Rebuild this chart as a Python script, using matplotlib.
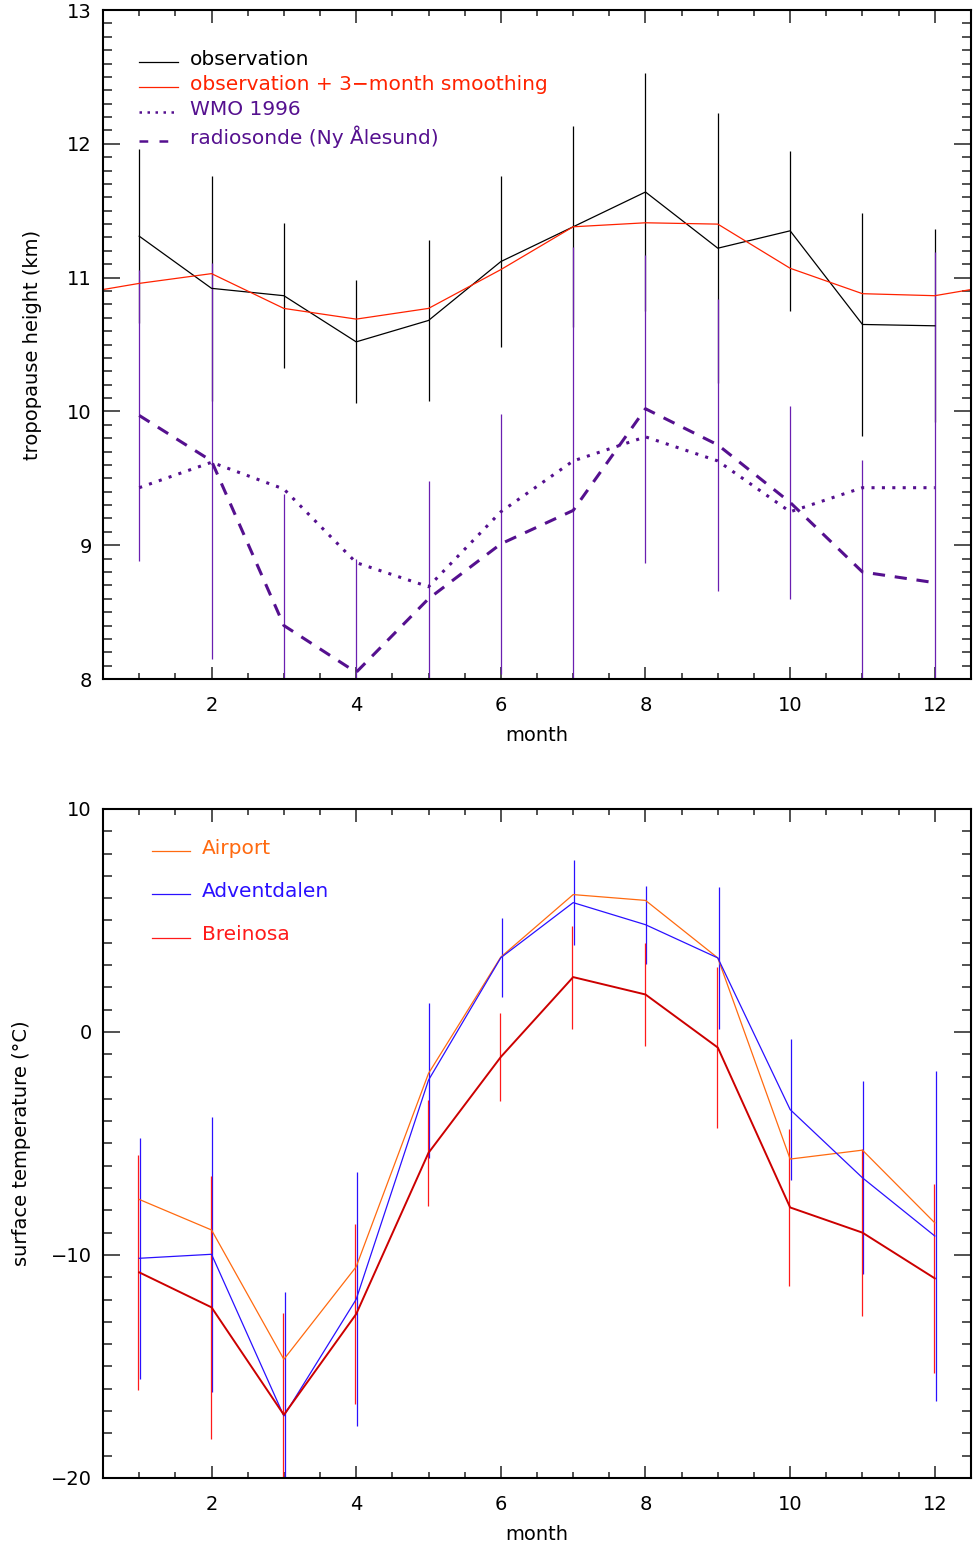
import matplotlib
matplotlib.use("Agg")
import matplotlib.pyplot as plt
from matplotlib.lines import Line2D
from matplotlib.legend_handler import HandlerLine2D
from matplotlib.ticker import MultipleLocator

plt.rcParams['font.family'] = ['DejaVu Sans']

months = [1, 2, 3, 4, 5, 6, 7, 8, 9, 10, 11, 12]

# tropopause height (km)
obs = [11.31, 10.92, 10.865, 10.52, 10.68, 11.12, 11.38, 11.64, 11.22, 11.35, 10.65, 10.64]
obs_err = [0.65, 0.84, 0.54, 0.46, 0.60, 0.64, 0.75, 0.89, 1.01, 0.60, 0.83, 0.72]
# 3-month smoothing, wrapped: month 0 = Dec, month 13 = Jan
smooth_months = [0, 1, 2, 3, 4, 5, 6, 7, 8, 9, 10, 11, 12, 13]
smooth = [10.865, 10.957, 11.03, 10.77, 10.69, 10.77, 11.06, 11.38, 11.41, 11.40, 11.07, 10.88, 10.865, 10.957]
wmo = [9.43, 9.62, 9.42, 8.87, 8.69, 9.25, 9.63, 9.81, 9.63, 9.25, 9.43, 9.43]
sonde = [9.97, 9.63, 8.40, 8.05, 8.60, 9.01, 9.26, 10.02, 9.75, 9.32, 8.80, 8.72]
sonde_err = [1.09, 1.48, 0.98, 0.85, 0.88, 0.97, 1.97, 1.15, 1.09, 0.72, 0.84, 2.47]

# surface temperature (deg C)
airport = [-7.51, -8.88, -14.68, -10.53, -1.86, 3.36, 6.16, 5.90, 3.32, -5.70, -5.30, -8.56]
advent = [-10.15, -9.97, -17.22, -11.99, -2.16, 3.33, 5.80, 4.81, 3.32, -3.48, -6.54, -9.15]
advent_err = [5.41, 6.16, 5.57, 5.69, 3.47, 1.77, 1.90, 1.75, 3.20, 3.15, 4.33, 7.41]
breinosa = [-10.78, -12.35, -17.17, -12.65, -5.42, -1.12, 2.46, 1.68, -0.70, -7.87, -9.00, -11.05]
breinosa_err = [5.27, 5.90, 4.55, 4.05, 2.37, 1.99, 2.31, 2.30, 3.62, 3.53, 3.76, 4.25]

purple = '#55108f'
red = '#ff2200'
orange = '#ff6a10'
blue = '#2a10ff'
bred = '#cc0000'
fs = 14


class BaselineHandler(HandlerLine2D):
    # legend line sits on the text baseline, like the original
    def create_artists(self, legend, orig_handle, xdescent, ydescent, width, height, fontsize, trans):
        arts = super().create_artists(legend, orig_handle, xdescent, ydescent, width, height, fontsize, trans)
        for a in arts:
            a.set_ydata([y - 0.3 * height for y in a.get_ydata()])
        return arts


fig = plt.figure(figsize=(9.73, 15.45), dpi=100)
ax1 = fig.add_axes([0.1059, 0.5605, 0.892, 0.433])
ax2 = fig.add_axes([0.1059, 0.0434, 0.892, 0.433])


def style(ax, ymaj, ymin):
    ax.set_xlim(0.5, 12.5)
    ax.xaxis.set_major_locator(MultipleLocator(2))
    ax.xaxis.set_minor_locator(MultipleLocator(0.5))
    ax.yaxis.set_major_locator(MultipleLocator(ymaj))
    ax.yaxis.set_minor_locator(MultipleLocator(ymin))
    ax.tick_params(axis='both', which='both', direction='in', top=True, right=True,
                   labelsize=fs, width=1.2, color='#333333')
    ax.tick_params(axis='x', which='major', length=9, pad=12)
    ax.tick_params(axis='x', which='minor', length=4.5)
    ax.tick_params(axis='y', which='major', length=12.5, pad=8)
    ax.tick_params(axis='y', which='minor', length=6.5)
    for s in ax.spines.values():
        s.set_linewidth(1.5)
    ax.set_xlabel('month', fontsize=fs, labelpad=8)


# top panel
ax1.errorbar(months, obs, yerr=obs_err, fmt='none', ecolor='k', elinewidth=0.9, capsize=0)
ax1.errorbar(months, sonde, yerr=sonde_err, fmt='none', ecolor='#6a1fb0', elinewidth=0.9, capsize=0)
ax1.plot(months, obs, color='k', lw=0.9)
ax1.plot(smooth_months, smooth, color=red, lw=0.9)
ax1.plot(months, wmo, color=purple, lw=2.2, linestyle=(0, (1, 2.4)))
ax1.plot(months, sonde, color=purple, lw=2.2, linestyle=(0, (4, 3.2)))
ax1.set_ylim(8, 13)
style(ax1, 1, 0.1)
ax1.set_ylabel('tropopause height (km)', fontsize=fs, labelpad=18)

h1 = [Line2D([], [], color='k', lw=0.9),
      Line2D([], [], color=red, lw=0.9),
      Line2D([], [], color=purple, lw=1.8, linestyle=(0, (1, 2.2))),
      Line2D([], [], color=purple, lw=1.8, linestyle=(0, (3.5, 4.5)))]
l1 = ['observation', 'observation + 3\u2212month smoothing', 'WMO 1996', 'radiosonde (Ny \u00c5lesund)']
leg1 = ax1.legend(h1, l1, loc='upper left', bbox_to_anchor=(0.042, 0.94), frameon=False,
                  fontsize=14.5, handlelength=1.9, handletextpad=0.6, labelspacing=0.3,
                  borderpad=0, borderaxespad=0, handler_map={Line2D: BaselineHandler()})
for t, c in zip(leg1.get_texts(), ['k', red, purple, purple]):
    t.set_color(c)

# bottom panel
ax2.errorbar([m + 0.012 for m in months], advent, yerr=advent_err, fmt='none', ecolor=blue,
             elinewidth=0.9, capsize=0)
ax2.errorbar([m - 0.012 for m in months], breinosa, yerr=breinosa_err, fmt='none', ecolor='#ff1a1a',
             elinewidth=0.9, capsize=0)
ax2.plot(months, airport, color=orange, lw=0.9)
ax2.plot(months, advent, color=blue, lw=0.9)
ax2.plot(months, breinosa, color=bred, lw=1.4)
ax2.set_ylim(-20, 10)
style(ax2, 10, 1)
ax2.set_ylabel('surface temperature (\u00b0C)', fontsize=fs, labelpad=14)

h2 = [Line2D([], [], color=orange, lw=0.9),
      Line2D([], [], color=blue, lw=0.9),
      Line2D([], [], color='#ff1a1a', lw=0.9)]
leg2 = ax2.legend(h2, ['Airport', 'Adventdalen', 'Breinosa'], loc='upper left',
                  bbox_to_anchor=(0.056, 0.955), frameon=False, fontsize=14.5,
                  handlelength=1.9, handletextpad=0.6, labelspacing=1.2,
                  borderpad=0, borderaxespad=0, handler_map={Line2D: BaselineHandler()})
for t, c in zip(leg2.get_texts(), [orange, blue, '#ff1a1a']):
    t.set_color(c)

fig.savefig('out.png', dpi=100)
